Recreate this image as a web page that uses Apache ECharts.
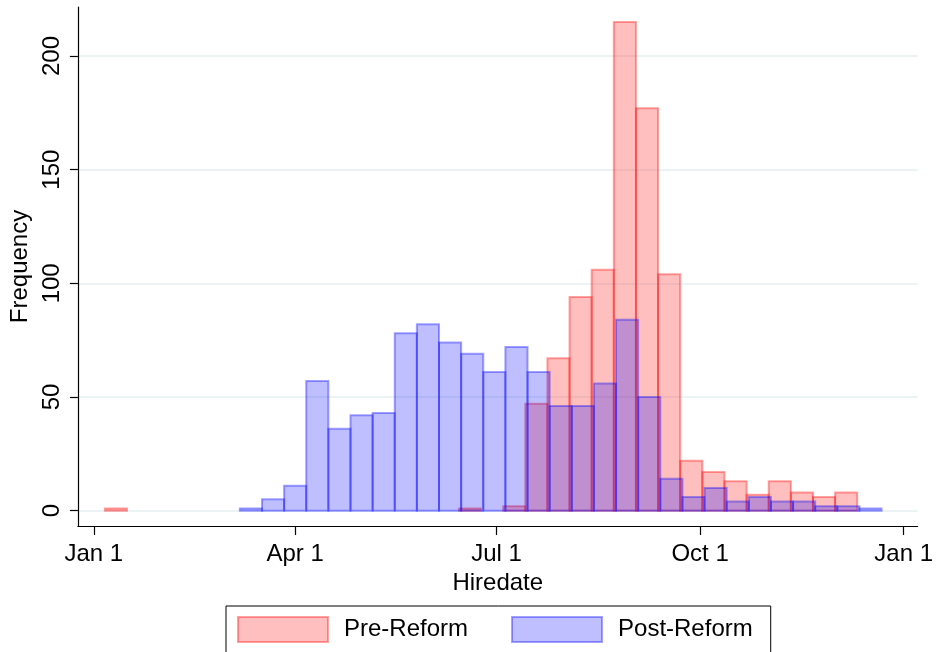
<!DOCTYPE html>
<html>
<head>
<meta charset="utf-8">
<script src="https://cdn.jsdelivr.net/npm/echarts@6/dist/echarts.min.js"></script>
<style>
html,body{margin:0;padding:0;background:#fff;}
#chart{width:936px;height:652px;}
</style>
</head>
<body>
<div id="chart"></div>
<script>
// Day-of-year (leap year) histograms, bin width 10 days
var binWidth = 10;
var preStart = 5;
var preCounts = [1,0,0,0,0,0,0,0,0,0,0,0,0,0,0,0,1,0,2,47,67,94,106,215,177,104,22,17,13,7,13,8,6,8];
var postStart = 66;
var postCounts = [1,5,11,57,36,42,43,78,82,74,69,61,72,61,46,46,56,84,50,14,6,10,4,6,4,4,2,2,1];
var seriesNames = ['Pre-Reform','Post-Reform'];
var xTickValues = [0, 91, 182, 274, 366];
var xTickLabels = ['Jan 1','Apr 1','Jul 1','Oct 1','Jan 1'];
var yTickValues = [0, 50, 100, 150, 200];
var xTitle = 'Hiredate';
var yTitle = 'Frequency';

function toBins(start, counts){
  var out = [];
  for (var i = 0; i < counts.length; i++){
    out.push([start + i*binWidth, start + (i+1)*binWidth, counts[i]]);
  }
  return out;
}

var FONT = 'Liberation Sans';
var FS = 24;
var preFill = 'rgba(255,0,0,0.25)', preLine = 'rgba(255,0,0,0.36)';
var postFill = 'rgba(0,0,255,0.25)', postLine = 'rgba(0,0,255,0.36)';

function makeRender(fill, stroke){
  return function(params, api){
    var y = api.value(2);
    if (!y) return null;
    var p0 = api.coord([api.value(0), y]);
    var p1 = api.coord([api.value(1), 0]);
    return {
      type: 'rect',
      shape: {x: p0[0], y: p0[1], width: p1[0]-p0[0], height: p1[1]-p0[1]},
      style: {fill: fill, stroke: stroke, lineWidth: 2}
    };
  };
}

var chart = echarts.init(document.getElementById('chart'), null, {renderer:'canvas'});
chart.setOption({
  animation: false,
  backgroundColor: '#fff',
  textStyle: {fontFamily: FONT, color: '#000'},
  grid: {left: 75, top: 7, right: 16, bottom: 126, containLabel: false},
  xAxis: {
    type: 'value',
    min: -7.19, max: 372.3,
    name: xTitle, nameLocation: 'middle', nameGap: 40,
    nameTextStyle: {fontFamily: FONT, fontSize: FS, color: '#000'},
    axisLine: {show: true, onZero: false, lineStyle: {color: '#000', width: 1.2}},
    axisTick: {show: true, length: 9, lineStyle: {color: '#000', width: 1.2}, customValues: xTickValues},
    axisLabel: {
      fontFamily: FONT, fontSize: FS, color: '#000', margin: 16,
      customValues: xTickValues,
      formatter: function(v){ var i = xTickValues.indexOf(v); return i >= 0 ? xTickLabels[i] : ''; }
    },
    splitLine: {show: false}
  },
  yAxis: {
    type: 'value',
    min: -6.73, max: 221.55,
    name: yTitle, nameLocation: 'middle', nameGap: 41, nameRotate: 90,
    nameTextStyle: {fontFamily: FONT, fontSize: FS, color: '#000'},
    axisLine: {show: true, onZero: false, lineStyle: {color: '#000', width: 1.2}},
    axisTick: {show: true, length: 8, lineStyle: {color: '#000', width: 1.2}, customValues: yTickValues},
    axisLabel: {
      fontFamily: FONT, fontSize: FS, color: '#000', margin: 14, rotate: 90,
      customValues: yTickValues
    },
    splitLine: {show: true, lineStyle: {color: '#e6eff1', width: 1.5}}
  },
  legend: {
    left: 226, top: 606,
    orient: 'horizontal',
    padding: [10, 18, 10, 11],
    itemWidth: 90, itemHeight: 25, itemGap: 43,
    borderColor: '#000', borderWidth: 1,
    icon: 'rect',
    textStyle: {fontFamily: FONT, fontSize: FS, color: '#000', padding: [0,0,0,11]},
    data: [
      {name: seriesNames[0], itemStyle: {color: preFill, borderColor: preLine, borderWidth: 2}},
      {name: seriesNames[1], itemStyle: {color: postFill, borderColor: postLine, borderWidth: 2}}
    ]
  },
  series: [
    {
      name: seriesNames[0], type: 'custom',
      renderItem: makeRender(preFill, preLine),
      itemStyle: {color: preFill, borderColor: preLine},
      encode: {x: [0,1], y: 2},
      data: toBins(preStart, preCounts)
    },
    {
      name: seriesNames[1], type: 'custom',
      renderItem: makeRender(postFill, postLine),
      itemStyle: {color: postFill, borderColor: postLine},
      encode: {x: [0,1], y: 2},
      data: toBins(postStart, postCounts)
    }
  ]
});
</script>
</body>
</html>
